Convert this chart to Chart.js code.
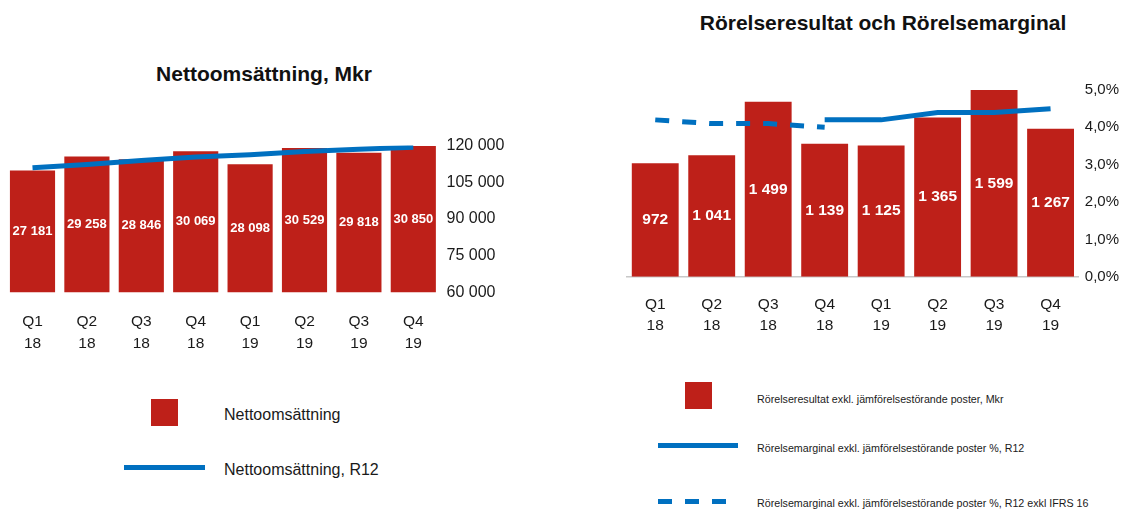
<!DOCTYPE html>
<html>
<head>
<meta charset="utf-8">
<script src="https://cdn.jsdelivr.net/npm/chart.js@4/dist/chart.umd.min.js"></script>
<style>
  html, body { margin: 0; padding: 0; background: #fff; overflow: hidden; }
  body { width: 1127px; height: 509px; position: relative; font-family: "Liberation Sans", Arial, sans-serif; color: #1a1a1a; }
  .box { position: absolute; }
  .title { position: absolute; font-weight: bold; font-size: 21px; white-space: nowrap; transform: translateX(-50%); color: #111; }
  .lg-text { position: absolute; white-space: nowrap; transform: translateY(-50%); }
  .swatch { position: absolute; background: #BE2019; }
  .lg-line { position: absolute; background: #0070C0; }
</style>
</head>
<body>

<div class="title" style="left:264px; top:62px;">Nettoomsättning, Mkr</div>
<div class="title" style="left:883px; top:11px;">Rörelseresultat och Rörelsemarginal</div>

<div class="box" style="left:0; top:130px; width:520px; height:232px;"><canvas id="salesChart"></canvas></div>
<div class="box" style="left:600px; top:70px; width:527px; height:300px;"><canvas id="marginChart"></canvas></div>

<!-- left legend -->
<div class="swatch" style="left:151px; top:399px; width:27px; height:27px;"></div>
<div class="lg-text" style="left:224px; top:415px; font-size:16px;">Nettoomsättning</div>
<div class="lg-line" style="left:124px; top:465px; width:81px; height:5px;"></div>
<div class="lg-text" style="left:224px; top:470px; font-size:16px;">Nettoomsättning, R12</div>

<!-- right legend -->
<div class="swatch" style="left:685px; top:382px; width:27px; height:27px;"></div>
<div class="lg-text" style="left:757px; top:399px; font-size:10.7px;">Rörelseresultat exkl. jämförelsestörande poster, Mkr</div>
<div class="lg-line" style="left:658px; top:443px; width:80px; height:5px;"></div>
<div class="lg-text" style="left:757px; top:448px; font-size:10.7px;">Rörelsemarginal exkl. jämförelsestörande poster %, R12</div>
<div class="lg-line" style="left:658px; top:499px; width:14px; height:5px;"></div>
<div class="lg-line" style="left:685px; top:499px; width:14px; height:5px;"></div>
<div class="lg-line" style="left:712px; top:499px; width:14px; height:5px;"></div>
<div class="lg-text" style="left:757px; top:503px; font-size:10.7px;">Rörelsemarginal exkl. jämförelsestörande poster %, R12 exkl IFRS 16</div>

<script>
// ===== DATA =====
const quarters = [['Q1','18'],['Q2','18'],['Q3','18'],['Q4','18'],['Q1','19'],['Q2','19'],['Q3','19'],['Q4','19']];

const netSales      = [27181, 29258, 28846, 30069, 28098, 30529, 29818, 30850];
const netSalesR12   = [110900, 112300, 113900, 115354, 116271, 117542, 118514, 119295];
const salesAxisTicks = [60000, 75000, 90000, 105000, 120000];

const opResult        = [972, 1041, 1499, 1139, 1125, 1365, 1599, 1267];
const opMarginR12     = [null, null, null, 4.2, 4.2, 4.4, 4.4, 4.5];
const opMarginExIfrs  = [4.2, 4.1, 4.1, 4.0, null, null, null, null];
const marginAxisTicks = [0, 1, 2, 3, 4, 5];

const RED = '#BE2019';
const BLUE = '#0070C0';
const TXT = '#1a1a1a';

Chart.defaults.font.family = '"Liberation Sans", Arial, sans-serif';
Chart.defaults.color = TXT;

const fmt = v => String(v).replace(/\B(?=(\d{3})+(?!\d))/g, ' ');

// white value labels in the middle of each (visible part of the) bar
const barLabels = {
  id: 'barLabels',
  afterDatasetsDraw(chart, args, opts) {
    const ctx = chart.ctx;
    const bottom = chart.chartArea.bottom;
    chart.data.datasets.forEach((ds, i) => {
      if (ds.type !== 'bar') return;
      chart.getDatasetMeta(i).data.forEach((bar, j) => {
        const base = Math.min(bar.base, bottom);
        ctx.save();
        ctx.fillStyle = '#fff';
        ctx.font = opts.font;
        ctx.textAlign = 'center';
        ctx.textBaseline = 'middle';
        ctx.fillText(fmt(ds.data[j]), bar.x, (bar.y + base) / 2);
        ctx.restore();
      });
    });
  }
};

const xAxis = (pad, lh, height, border) => ({
  grid: { display: false, drawTicks: false },
  border: border,
  ticks: { padding: pad, color: TXT, maxRotation: 0, autoSkip: false, font: { size: 15.5, lineHeight: lh } },
  afterFit: s => { s.height = height; }
});

// ===== NETTOOMSÄTTNING =====
new Chart(document.getElementById('salesChart'), {
  type: 'bar',
  data: {
    labels: quarters,
    datasets: [
      { type: 'line', data: netSalesR12, yAxisID: 'y1', borderColor: BLUE, borderWidth: 5, pointRadius: 0, tension: 0, order: 0 },
      { type: 'bar', data: netSales, yAxisID: 'y', backgroundColor: RED, barPercentage: 0.83, categoryPercentage: 1, order: 1 }
    ]
  },
  options: {
    responsive: true, maintainAspectRatio: false, animation: false,
    layout: { padding: { top: 12.3, left: 5.3, right: 0, bottom: 0 } },
    plugins: { legend: { display: false }, tooltip: { enabled: false }, barLabels: { font: 'bold 13px "Liberation Sans", Arial, sans-serif' } },
    scales: {
      x: xAxis(19, 1.4, 69.7, { display: false }),
      y: { display: false, min: 8900, max: 30900 },
      y1: {
        position: 'right', min: salesAxisTicks[0], max: salesAxisTicks[salesAxisTicks.length - 1],
        grid: { display: false, drawTicks: false }, border: { display: false },
        afterBuildTicks: s => { s.ticks = salesAxisTicks.map(v => ({ value: v })); },
        ticks: { padding: 6, color: TXT, font: { size: 16 }, callback: v => fmt(v) },
        afterFit: s => { s.width = 79.5; }
      }
    }
  },
  plugins: [barLabels]
});

// ===== RÖRELSERESULTAT / RÖRELSEMARGINAL =====
new Chart(document.getElementById('marginChart'), {
  type: 'bar',
  data: {
    labels: quarters,
    datasets: [
      { type: 'line', data: opMarginR12, yAxisID: 'y1', borderColor: BLUE, borderWidth: 5, pointRadius: 0, tension: 0, order: 0 },
      { type: 'line', data: opMarginExIfrs, yAxisID: 'y1', borderColor: BLUE, borderWidth: 5, borderDash: [14, 13], pointRadius: 0, tension: 0, order: 0 },
      { type: 'bar', data: opResult, yAxisID: 'y', backgroundColor: RED, barPercentage: 0.83, categoryPercentage: 1, order: 1 }
    ]
  },
  options: {
    responsive: true, maintainAspectRatio: false, animation: false,
    layout: { padding: { top: 20, left: 27, right: 0, bottom: 0 } },
    plugins: { legend: { display: false }, tooltip: { enabled: false }, barLabels: { font: 'bold 15.5px "Liberation Sans", Arial, sans-serif' } },
    scales: {
      x: xAxis(18, 1.34, 93.3, { display: true, color: '#c8c8c8', width: 1.5 }),
      y: { display: false, min: 0, max: 1600 },
      y1: {
        position: 'right', min: marginAxisTicks[0], max: marginAxisTicks[marginAxisTicks.length - 1],
        grid: { display: false, drawTicks: false }, border: { display: false },
        afterBuildTicks: s => { s.ticks = marginAxisTicks.map(v => ({ value: v })); },
        ticks: { padding: 6, color: TXT, font: { size: 15 }, callback: v => v.toFixed(1).replace('.', ',') + '%' },
        afterFit: s => { s.width = 48.2; }
      }
    }
  },
  plugins: [barLabels]
});
</script>
</body>
</html>
